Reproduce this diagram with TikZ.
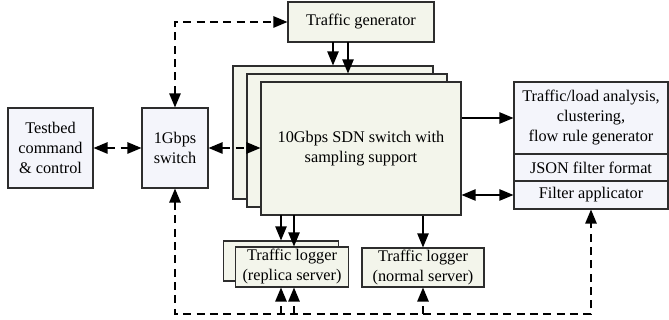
\documentclass[tikz,border=0pt]{standalone}
\usepackage{fontspec}
\setmainfont{Liberation Serif}
\usetikzlibrary{arrows.meta}
\definecolor{greenfill}{RGB}{243,245,235}
\definecolor{bluefill}{RGB}{244,245,251}
\definecolor{edgegray}{RGB}{45,45,45}
\begin{document}
\begin{tikzpicture}[x=0.75pt,y=-0.75pt]
    \tikzstyle{every node}+=[inner sep=0pt]
    \tikzstyle{box}=[draw=edgegray, line width=0.8pt, align=center, font=\fontsize{12.2}{15}\selectfont]
    \tikzstyle{greenbox}=[box, fill=greenfill]
    \tikzstyle{bluebox}=[box, fill=bluefill]
    \tikzstyle{link}=[line width=0.9pt, -{Triangle[length=10.5pt,width=8.5pt]}]
    \tikzstyle{both}=[{Triangle[length=10.5pt,width=8.5pt]}-{Triangle[length=10.5pt,width=8.5pt]}]
    \tikzstyle{dashlink}=[link, line width=1.1pt, dash pattern=on 6pt off 4pt]
    \useasboundingbox (0,0) rectangle (669,320);
    \node [bluebox, minimum width=63.75pt, minimum height=60pt] (testbed) at (50.5,148) {Testbed\\command\\\& control};
    \node [bluebox, minimum width=49.5pt, minimum height=60pt] (gbps) at (175,148) {1Gbps\\switch};
    \node [greenbox, minimum width=109.5pt, minimum height=30pt] (gen) at (361,22) {Traffic generator};
    \node [greenbox, minimum width=150pt, minimum height=99.75pt] (sdnb) at (333,132.5) {};
    \node [greenbox, minimum width=150pt, minimum height=99.75pt] (sdnm) at (347,140.5) {};
    \node [greenbox, minimum width=150pt, minimum height=99.75pt] (sdnf) at (361,148.5) {10Gbps SDN switch with\\sampling support};
    \node [bluebox, minimum width=115.5pt, minimum height=54pt] (ana) at (591,118) {Traffic/load analysis,\\clustering,\\flow rule generator};
    \node [bluebox, minimum width=115.5pt, minimum height=20.25pt] (json) at (591,167.5) {JSON filter format};
    \node [bluebox, minimum width=115.5pt, minimum height=21pt] (filt) at (591,195) {Filter applicator};
    \node [greenbox, minimum width=86.25pt, minimum height=30pt] (logb) at (281,261) {};
    \node [greenbox, minimum width=84.75pt, minimum height=30pt] (logf) at (292,267) {Traffic logger\\(replica server)};
    \node [greenbox, minimum width=91.5pt, minimum height=29.25pt] (lognorm) at (423,267.5) {Traffic logger\\(normal server)};
    \coordinate (g1) at (333,42);
    \coordinate (g2) at (348,42);
    \coordinate (s1) at (281,215);
    \coordinate (s2) at (294,215);
    \coordinate (bl) at (175,314);
    \coordinate (br) at (591,314);
    \draw [dashlink, both] (gbps.north) |- (gen.west);
    \draw [dashlink, both] (testbed.east) -- (gbps.west);
    \draw [dashlink, both] (gbps.east) -- (gbps.east -| sdnf.west);
    \draw [link] (g1) -- (g1 |- sdnb.north);
    \draw [link] (g2) -- (g2 |- sdnm.north);
    \draw [link] (sdnf.east |- ana.west) -- (ana.west);
    \draw [link, both] (sdnf.east |- filt.west) -- (filt.west);
    \draw [link] (s1) -- (s1 |- logb.north);
    \draw [link] (s2) -- (s2 |- logf.north);
    \draw [link] (lognorm.north |- sdnf.south) -- (lognorm.north);
    \draw [dashlink, both] (gbps.south) -- (bl) -- (br) -- (filt.south);
    \draw [dashlink] (s1 |- bl) -- (s1 |- logf.south);
    \draw [dashlink] (s2 |- bl) -- (s2 |- logf.south);
    \draw [dashlink] (lognorm.south |- bl) -- (lognorm.south);
\end{tikzpicture}
\end{document}
